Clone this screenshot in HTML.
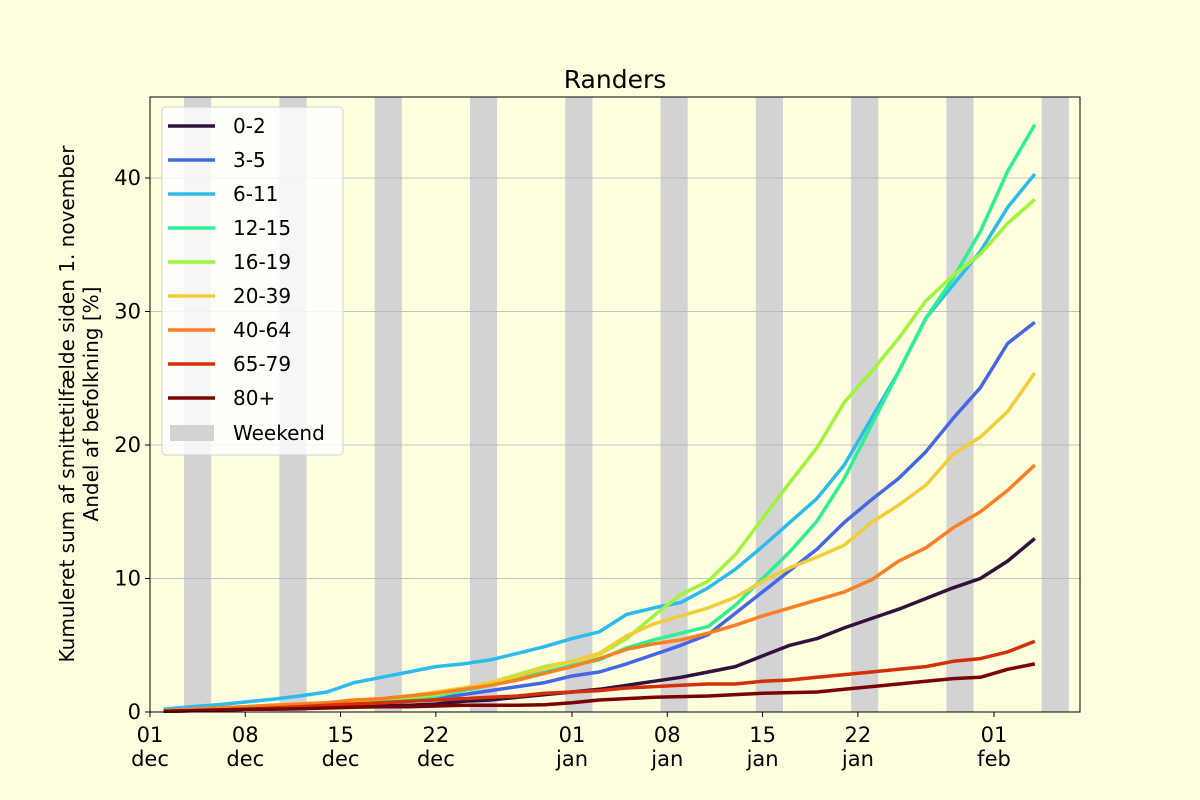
<!DOCTYPE html>
<html><head><meta charset="utf-8"><style>
html,body{margin:0;padding:0;background:#ffffe0;}
svg{display:block;font-family:"DejaVu Sans","Liberation Sans",sans-serif;}
</style></head><body>
<svg id="chart" width="1200" height="800">
<rect x="0" y="0" width="1200" height="800" fill="#ffffe0"/>
<g id="weekends"></g><g id="grid"></g><g id="lines"></g><g id="axes"></g><g id="legend"></g>
</svg>
<script>
const days = [1,3,5,7,9,11,13,15,17,19,21,23,25,27,29,31,33,35,37,39,41,43,45,47,49,51,53,55,57,59,61,63,65];
const seriesNames = ["0-2","3-5","6-11","12-15","16-19","20-39","40-64","65-79","80+"];
const seriesColors = ["#30123b","#4667e3","#2bbbec","#2ef093","#9ef53c","#f2cd3a","#fb7f24","#d33006","#7a0403"];
const s0_2 = [.05,.1,.15,.2,.25,.3,.35,.4,.45,.5,.6,.8,.9,1.1,1.3,1.5,1.7,2.0,2.3,2.6,3.0,3.4,4.2,5.0,5.5,6.3,7.0,7.7,8.5,9.3,10.0,11.3,13.0];
const s3_5 = [.1,.15,.2,.3,.35,.4,.5,.6,.7,.8,1.0,1.3,1.6,1.9,2.2,2.7,3.0,3.6,4.3,5.0,5.8,7.4,9.0,10.6,12.2,14.2,15.9,17.5,19.5,22.0,24.3,27.6,29.2];
const s6_11 = [.2,.4,.55,.75,.95,1.2,1.5,2.2,2.6,3.0,3.4,3.6,3.9,4.4,4.9,5.5,6.0,7.3,7.8,8.2,9.3,10.7,12.4,14.2,16.0,18.5,22.0,25.5,29.5,32.0,34.5,37.8,40.3];
const s12_15 = [.1,.15,.2,.3,.4,.5,.6,.7,.8,1.0,1.2,1.6,2.0,2.5,3.0,3.5,3.9,4.8,5.4,5.9,6.4,8.0,10.0,12.0,14.3,17.5,21.5,25.5,29.5,32.5,36.0,40.5,44.0];
const s16_19 = [.1,.2,.3,.4,.5,.6,.7,.8,1.0,1.1,1.3,1.7,2.2,2.8,3.4,3.8,4.3,5.5,7.2,8.8,9.8,11.8,14.5,17.2,19.8,23.2,25.5,28.0,30.8,32.7,34.3,36.6,38.4];
const s20_39 = [.1,.2,.3,.4,.5,.6,.7,.8,1.0,1.2,1.5,1.8,2.2,2.7,3.3,3.8,4.4,5.7,6.6,7.2,7.8,8.6,9.8,10.8,11.6,12.5,14.2,15.5,17.0,19.3,20.6,22.5,25.4];
const s40_64 = [.1,.2,.3,.4,.5,.6,.7,.9,1.0,1.2,1.4,1.7,2.0,2.4,2.9,3.4,4.0,4.7,5.1,5.4,5.9,6.5,7.2,7.8,8.4,9.0,9.9,11.3,12.3,13.8,15.0,16.6,18.5];
const s65_79 = [.05,.1,.15,.2,.3,.4,.5,.6,.7,.8,.9,1.0,1.1,1.2,1.4,1.5,1.6,1.8,1.9,2.0,2.1,2.1,2.3,2.4,2.6,2.8,3.0,3.2,3.4,3.8,4.0,4.5,5.3];
const s80 = [.05,.1,.15,.2,.2,.25,.3,.35,.4,.4,.45,.5,.5,.5,.55,.7,.9,1.0,1.1,1.15,1.2,1.3,1.4,1.45,1.5,1.7,1.9,2.1,2.3,2.5,2.6,3.2,3.6];
const allSeries = [s0_2,s3_5,s6_11,s12_15,s16_19,s20_39,s40_64,s65_79,s80];
const yTicks = [0,10,20,30,40];
const xTickDays = [0,7,14,21,31,38,45,52,62];
const xTickTop = ["01","08","15","22","01","08","15","22","01"];
const xTickBot = ["dec","dec","dec","dec","jan","jan","jan","jan","feb"];
const weekendStarts = [2.5,9.5,16.5,23.5,30.5,37.5,44.5,51.5,58.5,65.5];

const NS="http://www.w3.org/2000/svg";
const L=150,R=1080,T=97,B=712;
const xs=d=>150+d*13.613;
const ys=v=>712-v*13.35;
function mk(tag,attrs,parent,text){const e=document.createElementNS(NS,tag);for(const k in attrs)e.setAttribute(k,attrs[k]);if(text!==undefined)e.textContent=text;parent.appendChild(e);return e;}
const gW=document.getElementById('weekends'),gG=document.getElementById('grid'),gL=document.getElementById('lines'),gA=document.getElementById('axes'),gLeg=document.getElementById('legend');

weekendStarts.forEach(w=>{const r=mk('rect',{x:xs(w),y:T,width:xs(w+2)-xs(w),height:B-T,fill:'#d3d3d3'},gW);

});

yTicks.forEach(v=>{const l=mk('line',{x1:L,x2:R,y1:ys(v),y2:ys(v),stroke:'#b0b0b0','stroke-width':0.8},gG);


mk('line',{x1:L-5,x2:L,y1:ys(v),y2:ys(v),stroke:'#000','stroke-width':1},gA);
const t=mk('text',{x:L-9,y:ys(v)+7,'text-anchor':'end','font-size':21},gA,String(v));

});

xTickDays.forEach((d,i)=>{mk('line',{x1:xs(d),x2:xs(d),y1:B,y2:B+5,stroke:'#000'},gA);
const t=mk('text',{x:xs(d),y:B+30,'text-anchor':'middle','font-size':21},gA,xTickTop[i]);


const t2=mk('text',{x:xs(d),y:B+54,'text-anchor':'middle','font-size':21},gA,xTickBot[i]);

});

allSeries.forEach((s,i)=>{const pts=s.map((v,j)=>xs(days[j]).toFixed(1)+','+ys(v).toFixed(1)).join(' ');
const p=mk('polyline',{points:pts,fill:'none',stroke:seriesColors[i],'stroke-width':3.5,'stroke-linejoin':'round'},gL);

});

const fr=mk('rect',{x:L,y:T,width:R-L,height:B-T,fill:'none',stroke:'#000','stroke-width':1},gA);



const tt=mk('text',{x:615,y:88,'text-anchor':'middle','font-size':25},gA,'Randers');


const yl=mk('text',{transform:'translate(74,404) rotate(-90)','text-anchor':'middle','font-size':20},gA,'Kumuleret sum af smittetilfælde siden 1. november');


const yl2=mk('text',{transform:'translate(98,404) rotate(-90)','text-anchor':'middle','font-size':20},gA,'Andel af befolkning [%]');



const lb=mk('rect',{x:162,y:107,width:181,height:348,rx:4,fill:'#ffffff','fill-opacity':0.8,stroke:'#d0d0d0'},gLeg);


seriesNames.forEach((n,i)=>{const y=126+i*34;
const g=mk('g',{},gLeg);


mk('line',{x1:168,x2:215,y1:y,y2:y,stroke:seriesColors[i],'stroke-width':3.5},g);
mk('text',{x:233,y:y+7,'font-size':20},g,n);});
const gw=mk('g',{},gLeg);


mk('rect',{x:170,y:425,width:44,height:16,fill:'#d3d3d3'},gw);
mk('text',{x:233,y:440,'font-size':20},gw,'Weekend');
</script>
</body></html>
